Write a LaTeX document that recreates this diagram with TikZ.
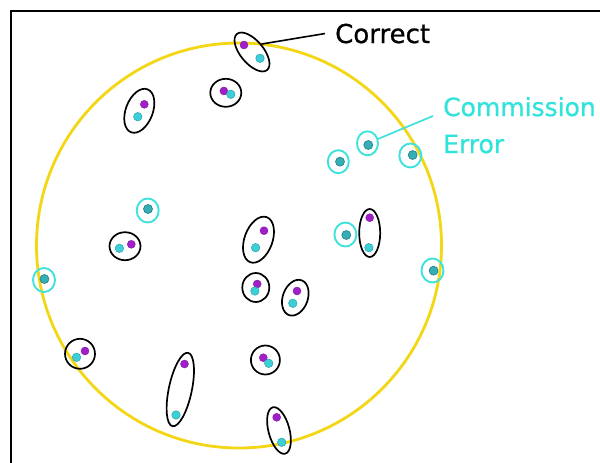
\documentclass[tikz,border=0pt]{standalone}
\usepackage{fontspec}
\newfontfamily\labelfont[FakeBold=0.8]{DejaVu Sans}
\usetikzlibrary{shapes.geometric}
\definecolor{yellowc}{HTML}{F3D714}
\definecolor{aquac}{HTML}{3FE2DC}
\definecolor{textc}{HTML}{30E4DC}
\definecolor{purplec}{HTML}{A11FC9}
\definecolor{purpleedge}{HTML}{7E1A9E}
\definecolor{cyanlite}{HTML}{3CCFD7}
\definecolor{cyanedge}{HTML}{2AA3AB}
\definecolor{tealdot}{HTML}{36AEB6}
\definecolor{tealedge}{HTML}{1E7C84}
\tikzset{
  pdot/.style={circle, inner sep=0pt, minimum size=8pt, fill=purplec, draw=purpleedge, line width=0.4pt},
  cdot/.style={circle, inner sep=0pt, minimum size=8.5pt, fill=cyanlite, draw=cyanedge, line width=0.5pt},
  edot/.style={circle, inner sep=0pt, minimum size=9pt, fill=tealdot, draw=tealedge, line width=0.6pt},
  pairbox/.style={ellipse, draw=black, line width=1.7pt, inner sep=0pt},
  errbox/.style={ellipse, draw=aquac, line width=1.9pt, inner sep=0pt},
  lbl/.style={inner xsep=10pt, inner ysep=0pt, anchor=base west},
}
\begin{document}
\begin{tikzpicture}[x=1pt, y=-1pt]
\useasboundingbox (0,0) rectangle (600,463);
\fill[white] (0,0) rectangle (600,463);
% frame
\draw[line width=2.3pt, line cap=rect] (11.2,470) -- (11.2,11.2) -- (610,11.2);
% yellow circle
\node[circle, draw=yellowc, line width=2.8pt, minimum size=405pt, inner sep=0pt] (ring) at (239,245.5) {};

% correct pairs
\node[pairbox, minimum width=47pt, minimum height=23pt, rotate=-50] (A) at (252,52) {};
\node[pdot] (Ap) at (244,45) {};
\node[cdot] (Ac) at (260,58.3) {};

\node[pairbox, minimum width=31pt, minimum height=28pt] (B) at (225.8,92.8) {};
\node[pdot] (Bp) at (223.9,91) {};
\node[cdot] (Bc) at (230.8,94.3) {};

\node[pairbox, minimum width=46pt, minimum height=27pt, rotate=69] (C) at (139.3,110.8) {};
\node[pdot] (Cp) at (144.3,104.3) {};
\node[cdot] (Cc) at (137.8,116.7) {};

\node[pairbox, minimum width=31pt, minimum height=28pt] (D) at (125,246.2) {};
\node[pdot] (Dp) at (131.3,244.3) {};
\node[cdot] (Dc) at (119.4,248.3) {};

\node[pairbox, minimum width=48pt, minimum height=28pt, rotate=70] (E) at (258.5,239.7) {};
\node[pdot] (Ep) at (264,230.7) {};
\node[cdot] (Ec) at (255.6,247.7) {};

\node[pairbox, minimum width=21pt, minimum height=48pt] (F) at (369.7,233) {};
\node[pdot] (Fp) at (369.7,217.7) {};
\node[cdot] (Fc) at (368.9,247.7) {};

\node[pairbox, minimum width=27pt, minimum height=29pt] (G) at (255.8,287.5) {};
\node[pdot] (Gp) at (257.2,284) {};
\node[cdot] (Gc) at (254.9,291) {};

\node[pairbox, minimum width=37pt, minimum height=25pt, rotate=70] (H) at (295.3,297.7) {};
\node[pdot] (Hp) at (297,291) {};
\node[cdot] (Hc) at (292.8,303.3) {};

\node[pairbox, minimum width=30pt, minimum height=30pt] (I) at (80,353.8) {};
\node[pdot] (Ip) at (85,351) {};
\node[cdot] (Ic) at (76.5,357.3) {};

\node[pairbox, minimum width=75pt, minimum height=23pt, rotate=78] (J) at (180.3,389.5) {};
\node[pdot] (Jp) at (184.5,364) {};
\node[cdot] (Jc) at (176,415) {};

\node[pairbox, minimum width=29pt, minimum height=29pt] (K) at (265.4,360) {};
\node[pdot] (Kp) at (263.3,357.7) {};
\node[cdot] (Kc) at (268.7,363.3) {};

\node[pairbox, minimum width=48pt, minimum height=21pt, rotate=-75] (L) at (279,430.5) {};
\node[pdot] (Lp) at (276.7,417.3) {};
\node[cdot] (Lc) at (281.7,442.3) {};

% commission errors
\node[errbox, minimum width=21pt, minimum height=24pt] (e1) at (367.5,143.3) {};
\node[edot] (e1d) at (368.3,145) {};
\node[errbox, minimum width=21pt, minimum height=23pt] (e2) at (338.3,161.7) {};
\node[edot] (e2d) at (340,161.7) {};
\node[errbox, minimum width=22pt, minimum height=24pt] (e3) at (410.3,155.5) {};
\node[edot] (e3d) at (412.7,155) {};
\node[errbox, minimum width=22pt, minimum height=24pt] (e4) at (147.7,210.5) {};
\node[edot] (e4d) at (148,209) {};
\node[errbox, minimum width=22pt, minimum height=24pt] (e5) at (345.4,234.5) {};
\node[edot] (e5d) at (346.3,235) {};
\node[errbox, minimum width=22pt, minimum height=24pt] (e6) at (432.5,270.5) {};
\node[edot] (e6d) at (433.6,270.7) {};
\node[errbox, minimum width=22pt, minimum height=24pt] (e7) at (44,280) {};
\node[edot] (e7d) at (44.4,279) {};

% labels
\node[lbl, font=\labelfont\fontsize{26}{30}\selectfont] (corr) at (325,43) {Correct};
\node[lbl, font=\labelfont\fontsize{25}{30}\selectfont, text=textc] (com) at (433,116) {Commission};
\node[lbl, font=\labelfont\fontsize{25}{30}\selectfont, text=textc] (err) at (433,153) {Error};

% connectors
\draw[line width=1.6pt] (A.north) -- (corr.west);
\draw[line width=1.7pt, draw=aquac] (e1) -- (com.base west);
\end{tikzpicture}
\end{document}
